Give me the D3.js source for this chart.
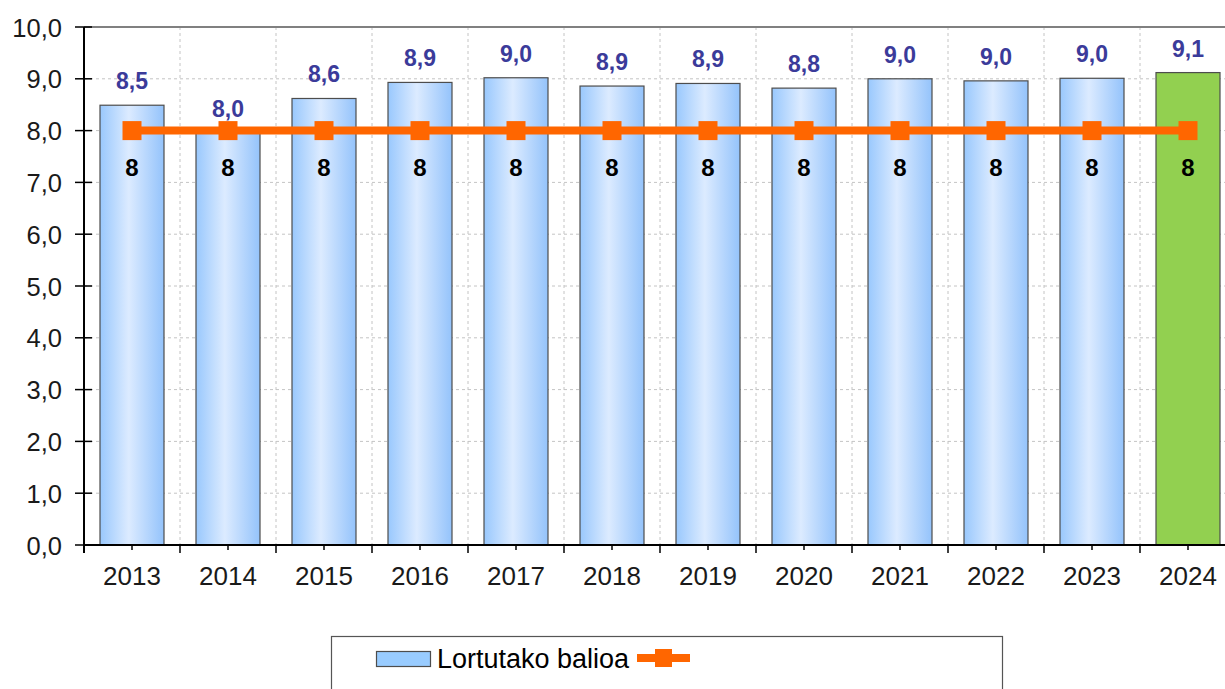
<!DOCTYPE html>
<html>
<head>
<meta charset="utf-8">
<script src="https://cdn.jsdelivr.net/npm/d3@7"></script>
<style>
  body { margin: 0; background: #fff; overflow: hidden; }
  svg { display: block; font-family: "Liberation Sans", Arial, sans-serif; }
</style>
</head>
<body>
<div id="chart"></div>
<script>
// Data
const years = ["2013", "2014", "2015", "2016", "2017", "2018", "2019", "2020", "2021", "2022", "2023", "2024"];
const achieved = [8.49, 7.96, 8.62, 8.93, 9.02, 8.86, 8.91, 8.82, 9.0, 8.96, 9.01, 9.12];
const target = [8, 8, 8, 8, 8, 8, 8, 8, 8, 8, 8, 8];
const yTicks = [0, 1, 2, 3, 4, 5, 6, 7, 8, 9, 10];
const legendLabel = "Lortutako balioa";

const width = 1225;
const height = 689;
const margin = { top: 27, left: 84 };
const plotW = 1152;
const plotH = 518;

const svg = d3.select("#chart")
    .append("svg")
    .attr("width", width)
    .attr("height", height);

// Bar gradient
const defs = svg.append("defs");
const grad = defs.append("linearGradient")
    .attr("id", "barGrad")
    .attr("x1", "0").attr("x2", "1").attr("y1", "0").attr("y2", "0");
grad.append("stop").attr("offset", "0%").attr("stop-color", "#99c8fd");
grad.append("stop").attr("offset", "45%").attr("stop-color", "#dcebff");
grad.append("stop").attr("offset", "100%").attr("stop-color", "#94c3fb");

const g = svg.append("g")
    .attr("transform", `translate(${margin.left}, ${margin.top})`);

// Scales
const x = d3.scaleBand()
    .domain(years)
    .range([0, plotW])
    .paddingInner(0)
    .paddingOuter(0);

const y = d3.scaleLinear()
    .domain([0, 10])
    .range([plotH, 0]);

const barW = 64;
const fmt = d => d3.format(".1f")(d).replace(".", ",");

// Gridlines
g.append("g")
    .selectAll("line")
    .data(yTicks.slice(1))
    .enter()
    .append("line")
    .attr("x1", 0)
    .attr("x2", plotW)
    .attr("y1", d => y(d))
    .attr("y2", d => y(d))
    .attr("stroke", "#c4c4c4")
    .attr("stroke-dasharray", "3,3");

g.append("g")
    .selectAll("line")
    .data(years.slice(1))
    .enter()
    .append("line")
    .attr("x1", d => x(d))
    .attr("x2", d => x(d))
    .attr("y1", 0)
    .attr("y2", plotH)
    .attr("stroke", "#c4c4c4")
    .attr("stroke-dasharray", "3,3");

// Top border of plot area
g.append("line")
    .attr("x1", 0).attr("x2", plotW)
    .attr("y1", 0).attr("y2", 0)
    .attr("stroke", "#808080")
    .attr("stroke-width", 2);

// Bars
g.selectAll("rect.bar")
    .data(achieved)
    .enter()
    .append("rect")
    .attr("class", "bar")
    .attr("x", (d, i) => x(years[i]) + (x.bandwidth() - barW) / 2)
    .attr("y", d => y(d))
    .attr("width", barW)
    .attr("height", d => plotH - y(d))
    .attr("fill", (d, i) => i === years.length - 1 ? "#92d050" : "url(#barGrad)")
    .attr("stroke", "#4d4d4d")
    .attr("stroke-width", 1.2);

// Axes
const yAxis = g.append("g")
    .call(d3.axisLeft(y).tickValues(yTicks).tickSize(0).tickFormat(fmt));
yAxis.select(".domain").remove();
yAxis.selectAll("text")
    .attr("x", -22)
    .attr("dy", "0.36em")
    .attr("font-size", 25.5)
    .attr("fill", "#1a1a1a")
    .attr("font-family", "Liberation Sans, Arial, sans-serif");

g.append("g")
    .selectAll("line")
    .data(yTicks)
    .enter()
    .append("line")
    .attr("x1", -9).attr("x2", 8)
    .attr("y1", d => y(d)).attr("y2", d => y(d))
    .attr("stroke", "#000")
    .attr("stroke-width", 1.5);

g.append("line")
    .attr("x1", 0).attr("x2", 0)
    .attr("y1", 0).attr("y2", plotH + 8)
    .attr("stroke", "#000")
    .attr("stroke-width", 2);

g.append("line")
    .attr("x1", 0).attr("x2", plotW)
    .attr("y1", plotH).attr("y2", plotH)
    .attr("stroke", "#000")
    .attr("stroke-width", 2);

// Major ticks at band edges, minor ticks at centres
g.append("g")
    .selectAll("line")
    .data(years.slice(1))
    .enter()
    .append("line")
    .attr("x1", d => x(d)).attr("x2", d => x(d))
    .attr("y1", plotH).attr("y2", plotH + 8)
    .attr("stroke", "#000")
    .attr("stroke-width", 1.5);

g.append("g")
    .selectAll("line")
    .data(years)
    .enter()
    .append("line")
    .attr("x1", d => x(d) + x.bandwidth() / 2).attr("x2", d => x(d) + x.bandwidth() / 2)
    .attr("y1", plotH).attr("y2", plotH + 5)
    .attr("stroke", "#000")
    .attr("stroke-width", 1.5);

const xAxis = g.append("g")
    .attr("transform", `translate(0, ${plotH})`)
    .call(d3.axisBottom(x).tickSize(0));
xAxis.select(".domain").remove();
xAxis.selectAll("text")
    .attr("y", 40)
    .attr("dy", 0)
    .attr("font-size", 26)
    .attr("fill", "#1a1a1a")
    .attr("font-family", "Liberation Sans, Arial, sans-serif");

// Bar value labels
g.selectAll("text.val")
    .data(achieved)
    .enter()
    .append("text")
    .attr("class", "val")
    .attr("x", (d, i) => x(years[i]) + x.bandwidth() / 2)
    .attr("y", d => y(d) - 16)
    .attr("text-anchor", "middle")
    .attr("font-size", 23)
    .attr("font-weight", "bold")
    .attr("fill", "#3b3b9a")
    .text(fmt);

// Target line
const line = d3.line()
    .x((d, i) => x(years[i]) + x.bandwidth() / 2)
    .y(d => y(d));

g.append("path")
    .datum(target)
    .attr("d", line)
    .attr("fill", "none")
    .attr("stroke", "#ff6600")
    .attr("stroke-width", 8);

const mk = 19;
g.selectAll("rect.mk")
    .data(target)
    .enter()
    .append("rect")
    .attr("class", "mk")
    .attr("x", (d, i) => x(years[i]) + x.bandwidth() / 2 - mk / 2)
    .attr("y", d => y(d) - mk / 2)
    .attr("width", mk)
    .attr("height", mk)
    .attr("fill", "#ff6600");

g.selectAll("text.tgt")
    .data(target)
    .enter()
    .append("text")
    .attr("class", "tgt")
    .attr("x", (d, i) => x(years[i]) + x.bandwidth() / 2)
    .attr("y", d => y(d) + 45)
    .attr("text-anchor", "middle")
    .attr("font-size", 24)
    .attr("font-weight", "bold")
    .attr("fill", "#000")
    .text(d => d);

// Legend
const legend = svg.append("g");
legend.append("rect")
    .attr("x", 331.5).attr("y", 636.5)
    .attr("width", 671).attr("height", 80)
    .attr("fill", "#fff")
    .attr("stroke", "#555")
    .attr("stroke-width", 1.2);
legend.append("rect")
    .attr("x", 376.5).attr("y", 651.5)
    .attr("width", 54).attr("height", 15)
    .attr("fill", "#99ccff")
    .attr("stroke", "#4d4d4d")
    .attr("stroke-width", 1.2);
legend.append("text")
    .attr("x", 437).attr("y", 668)
    .attr("font-size", 27)
    .attr("fill", "#000")
    .text(legendLabel);
legend.append("line")
    .attr("x1", 637).attr("x2", 690)
    .attr("y1", 658).attr("y2", 658)
    .attr("stroke", "#ff6600")
    .attr("stroke-width", 8);
legend.append("rect")
    .attr("x", 655).attr("y", 649)
    .attr("width", 17).attr("height", 18)
    .attr("fill", "#ff6600");
</script>
</body>
</html>
